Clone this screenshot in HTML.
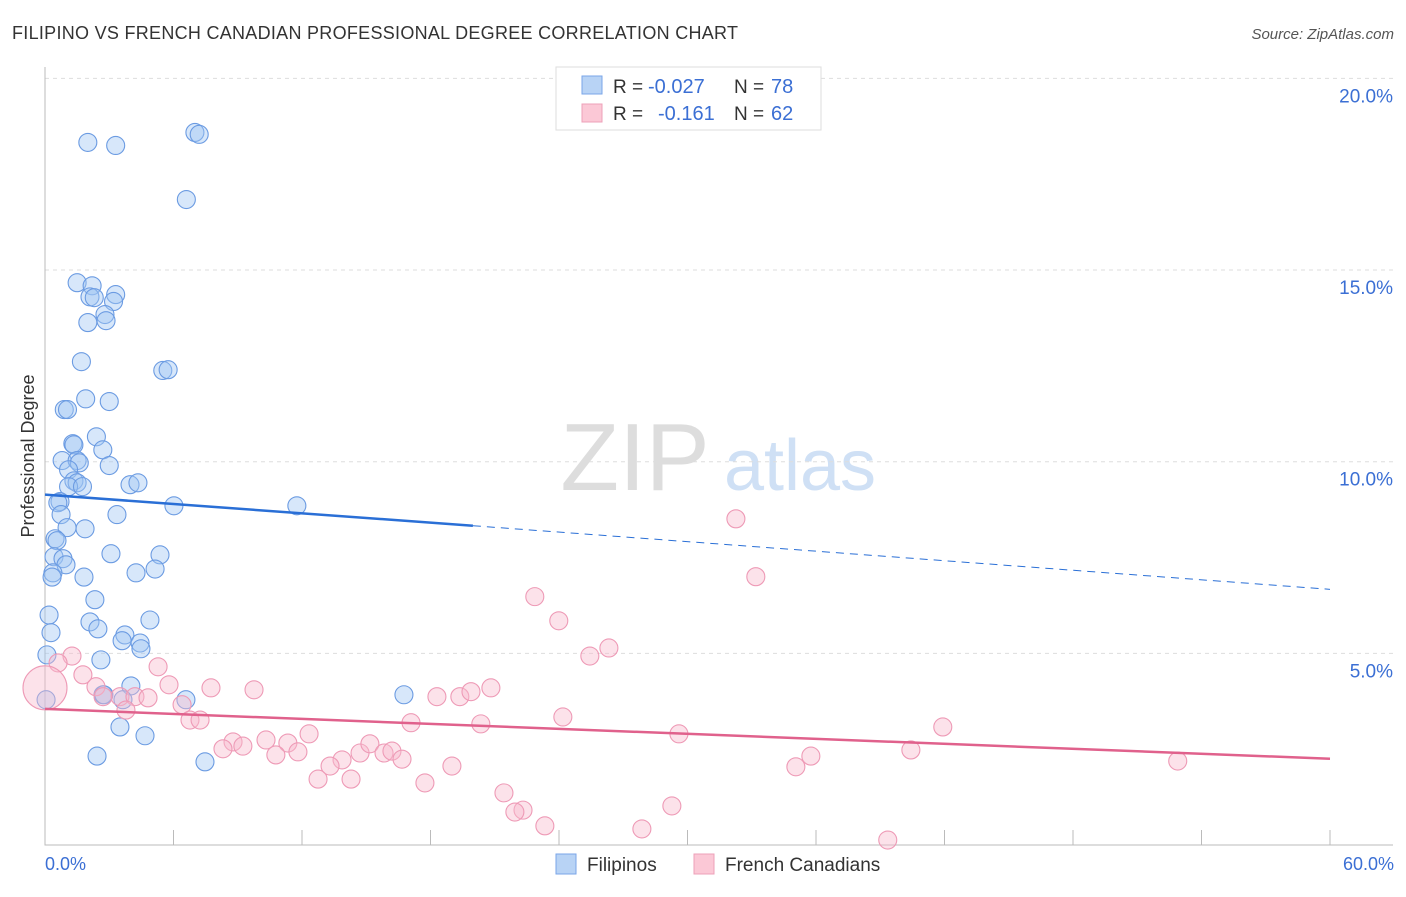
<!DOCTYPE html>
<html><head><meta charset="utf-8"><style>
body{margin:0;background:#fff;font-family:"Liberation Sans",sans-serif;}
svg text{font-family:"Liberation Sans",sans-serif;}
</style></head><body>
<svg width="1406" height="892" xmlns="http://www.w3.org/2000/svg">
<text x="12" y="39" font-size="18" fill="#333" textLength="726">FILIPINO VS FRENCH CANADIAN PROFESSIONAL DEGREE CORRELATION CHART</text>
<text x="1394" y="39" font-size="15" fill="#555" font-style="italic" text-anchor="end">Source: ZipAtlas.com</text>
<text x="635" y="490" font-size="96" fill="#ddd" font-family="Liberation Serif" text-anchor="middle">ZIP</text>
<text x="800" y="490" font-size="72" fill="#cfe0f5" text-anchor="middle">atlas</text>
<g id="grid"></g>
<g id="axes"></g>
<g id="pts"></g>
<g id="trends"></g>
<text transform="translate(34,456) rotate(-90)" font-size="18" fill="#333" text-anchor="middle">Professional Degree</text>
<text x="45" y="870" font-size="18" fill="#3b6fd4">0.0%</text>
<text x="1394" y="870" font-size="18" fill="#3b6fd4" text-anchor="end">60.0%</text>
<g>
<rect x="556" y="67" width="265" height="63" fill="#fff" stroke="#ddd"/>
<rect x="582" y="76" width="20" height="18" fill="#b8d3f5" stroke="#7aa6e8"/>
<rect x="582" y="104" width="20" height="18" fill="#fbc8d6" stroke="#eea0b8"/>
<text x="613" y="93" font-size="19" fill="#333">R =</text>
<text x="648" y="93" font-size="20" fill="#3b6fd4">-0.027</text>
<text x="734" y="93" font-size="19" fill="#333">N =</text>
<text x="771" y="93" font-size="20" fill="#3b6fd4">78</text>
<text x="613" y="120" font-size="19" fill="#333">R =</text>
<text x="658" y="120" font-size="20" fill="#3b6fd4">-0.161</text>
<text x="734" y="120" font-size="19" fill="#333">N =</text>
<text x="771" y="120" font-size="20" fill="#3b6fd4">62</text>
</g>
<g>
<rect x="556" y="854" width="20" height="20" fill="#b8d3f5" stroke="#7aa6e8"/>
<text x="587" y="871" font-size="19" fill="#333">Filipinos</text>
<rect x="694" y="854" width="20" height="20" fill="#fbc8d6" stroke="#eea0b8"/>
<text x="725" y="871" font-size="19" fill="#333">French Canadians</text>
</g>
</svg>
<script>
const yTicks=[5,10,15,20];
const yTickLabels=["5.0%","10.0%","15.0%","20.0%"];
const xTicks=[0,6,12,18,24,30,36,42,48,54,60];
const filX=[2.0,3.3,7.0,7.2,6.6,1.5,2.2,2.1,2.3,3.3,3.2,2.8,2.85,2.0,1.7,5.5,5.75,1.9,3.0,0.9,1.05,2.4,1.3,1.35,2.7,0.8,1.5,1.6,3.0,1.1,1.35,1.5,1.1,1.75,3.97,4.34,0.7,0.6,0.75,3.36,6.02,11.76,1.03,1.87,0.47,0.56,0.42,0.84,3.08,5.37,0.98,0.37,0.33,1.82,4.25,5.14,2.33,0.19,4.9,2.1,2.47,0.28,3.73,3.6,4.44,4.48,0.09,2.61,4.01,2.71,2.75,3.64,6.58,16.76,0.05,3.5,4.67,2.43,7.47];
const filY=[18.33,18.25,18.59,18.54,16.84,14.67,14.59,14.3,14.28,14.36,14.18,13.84,13.68,13.63,12.61,12.38,12.4,11.64,11.57,11.36,11.36,10.65,10.47,10.44,10.31,10.03,10.03,9.97,9.9,9.79,9.5,9.45,9.35,9.35,9.4,9.45,8.96,8.93,8.62,8.62,8.85,8.85,8.28,8.25,7.99,7.94,7.52,7.47,7.6,7.57,7.31,7.1,6.99,6.99,7.1,7.2,6.4,6.0,5.87,5.82,5.64,5.54,5.48,5.33,5.27,5.12,4.96,4.83,4.15,3.92,3.92,3.79,3.79,3.92,3.79,3.08,2.85,2.32,2.17];
const frX=[32.26,33.19,22.87,23.99,26.33,25.44,1.26,0.61,5.28,0.0,1.77,2.38,7.75,9.76,5.79,3.5,4.2,4.81,2.71,6.4,3.78,6.77,7.24,18.3,19.37,19.89,20.82,17.09,20.35,24.18,41.92,29.6,40.43,12.33,10.32,11.34,8.78,8.31,9.24,11.81,10.78,13.87,14.71,15.17,15.83,16.2,16.67,35.76,35.06,52.89,13.31,12.75,14.29,19.0,17.74,21.43,22.32,21.94,23.34,29.27,27.87,39.35];
const frY=[8.51,7.0,6.48,5.85,5.14,4.93,4.93,4.75,4.65,4.1,4.44,4.13,4.1,4.05,4.18,3.87,3.87,3.84,3.87,3.66,3.52,3.26,3.26,3.87,3.87,4.0,4.1,3.19,3.16,3.34,3.08,2.9,2.48,2.9,2.74,2.66,2.69,2.51,2.58,2.43,2.35,2.22,2.4,2.64,2.4,2.45,2.24,2.32,2.04,2.19,2.06,1.72,1.72,2.06,1.62,1.36,0.91,0.86,0.5,1.02,0.42,0.13];
const filTrend=[0,9.14,19.98,8.33,60,6.67];
const frTrend=[0,3.55,60,2.25];
const NS="http://www.w3.org/2000/svg";
const X=v=>45+v*(1285/60), Y=v=>845-v*38.33;
function mk(t,a,p){const e=document.createElementNS(NS,t);for(const k in a)e.setAttribute(k,a[k]);p.appendChild(e);return e;}
const grid=document.getElementById('grid'),axes=document.getElementById('axes'),pts=document.getElementById('pts'),tr=document.getElementById('trends');
yTicks.forEach((v,i)=>{
 const l=mk('line',{x1:45,x2:1393,y1:Y(v),y2:Y(v),stroke:'#ddd','stroke-dasharray':'4,4'},grid);
 
 
 const t=mk('text',{x:1393,y:Y(v)+24,'font-size':19,fill:'#3b6fd4','text-anchor':'end'},grid);
 t.textContent=yTickLabels[i];
 
 
});
const ax=mk('path',{d:'M45,67V845H1393',stroke:'#bbb',fill:'none'},axes);


xTicks.forEach(v=>{
 const l=mk('line',{x1:X(v),x2:X(v),y1:830,y2:845,stroke:'#bbb'},axes);
 
 
});
filX.forEach((v,i)=>{
 const c=mk('circle',{cx:X(v),cy:Y(filY[i]),r:9,fill:'rgba(160,198,242,0.42)',stroke:'#6b9be2','stroke-width':1.1},pts);
 
 
});
frX.forEach((v,i)=>{
 const c=mk('circle',{cx:X(v),cy:Y(frY[i]),r:i==9?22:9,fill:'rgba(248,185,205,0.42)',stroke:'#ee9ab6','stroke-width':1.1},pts);
 
 
});
let l=mk('line',{x1:X(filTrend[0]),y1:Y(filTrend[1]),x2:X(filTrend[2]),y2:Y(filTrend[3]),stroke:'#2a6fd6','stroke-width':2.5},tr);


l=mk('line',{x1:X(filTrend[2]),y1:Y(filTrend[3]),x2:X(filTrend[4]),y2:Y(filTrend[5]),stroke:'#2a6fd6','stroke-width':1,'stroke-dasharray':'8,6'},tr);


l=mk('line',{x1:X(frTrend[0]),y1:Y(frTrend[1]),x2:X(frTrend[2]),y2:Y(frTrend[3]),stroke:'#e0618c','stroke-width':2.5},tr);


</script>
</body></html>
